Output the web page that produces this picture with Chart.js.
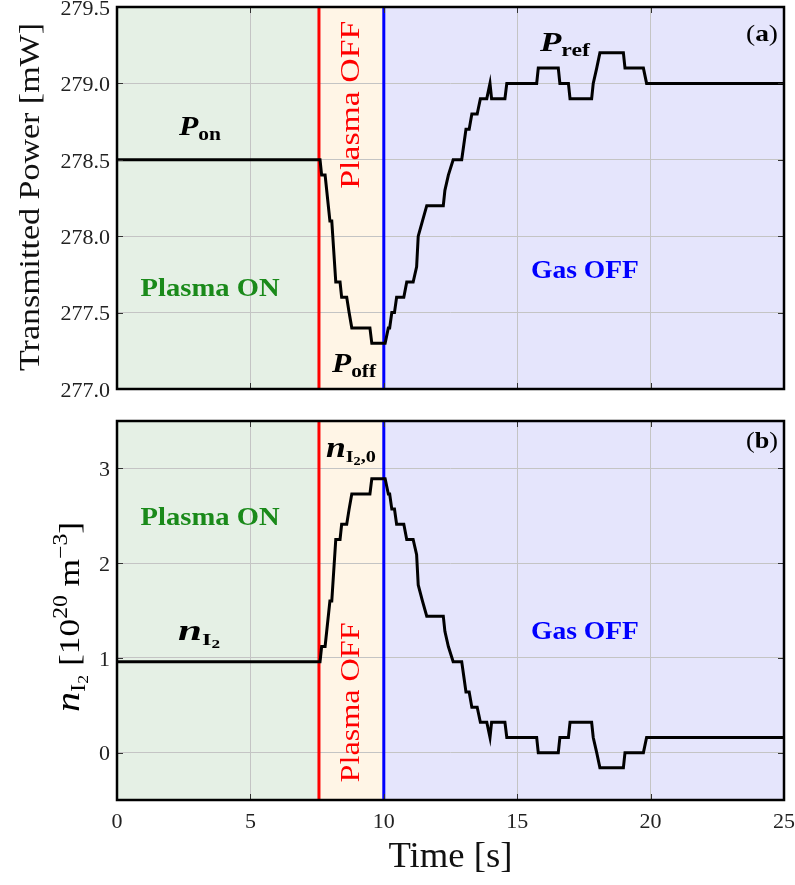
<!DOCTYPE html>
<html>
<head>
<meta charset="utf-8">
<script src="https://cdn.jsdelivr.net/npm/chart.js@4.4.1/dist/chart.umd.min.js"></script>
<style>
  html, body { margin: 0; padding: 0; background: #fff; }
  #wrap { position: relative; width: 795px; height: 885px; overflow: hidden; }
  #topBox { position: absolute; left: 0; top: -13px; width: 795px; height: 418px; }
  #botBox { position: absolute; left: 0; top: 405px; width: 795px; height: 480px; }
</style>
</head>
<body>
<div id="wrap">
  <div id="topBox"><canvas id="top" width="795" height="418"></canvas></div>
  <div id="botBox"><canvas id="bot" width="795" height="480"></canvas></div>
</div>
<script>
// time [s] of each sample
const timeS = [0, 7.61, 7.67, 7.80, 7.98, 8.05, 8.20, 8.36, 8.42, 8.61, 8.70, 8.80, 9.48, 9.55, 10.05,
  10.17, 10.22, 10.30, 10.40, 10.48, 10.75, 10.86, 11.10, 11.23, 11.29, 11.45, 11.61, 12.23, 12.29,
  12.42, 12.60, 12.92, 13.00, 13.08, 13.20, 13.30, 13.50, 13.62, 13.86, 13.98, 14.04, 14.54, 14.61,
  15.73, 15.79, 16.54, 16.60, 16.92, 16.98, 17.79, 17.85, 17.98, 18.10, 18.98, 19.04, 19.73, 19.85, 25];
// (a) transmitted power [mW]
const powerMW = [278.5, 278.5, 278.4, 278.4, 278.1, 278.1, 277.7, 277.7, 277.6, 277.6, 277.5, 277.4,
  277.4, 277.3, 277.3, 277.4, 277.4, 277.5, 277.5, 277.6, 277.6, 277.7, 277.7, 277.8, 278.0, 278.1,
  278.2, 278.2, 278.3, 278.4, 278.5, 278.5, 278.6, 278.7, 278.7, 278.8, 278.8, 278.9, 278.9, 279.0,
  278.9, 278.9, 279.0, 279.0, 279.1, 279.1, 279.0, 279.0, 278.9, 278.9, 279.0, 279.1, 279.2, 279.2,
  279.1, 279.1, 279.0, 279.0];
// (b) iodine density [1e20 m^-3]
const densityE20 = [0.96, 0.96, 1.12, 1.12, 1.60, 1.60, 2.25, 2.25, 2.41, 2.41, 2.57, 2.73, 2.73, 2.89,
  2.89, 2.73, 2.73, 2.57, 2.57, 2.41, 2.41, 2.25, 2.25, 2.09, 1.77, 1.60, 1.44, 1.44, 1.28, 1.12, 0.96,
  0.96, 0.80, 0.64, 0.64, 0.48, 0.48, 0.32, 0.32, 0.16, 0.32, 0.32, 0.16, 0.16, 0.00, 0.00, 0.16, 0.16,
  0.32, 0.32, 0.16, 0.00, -0.16, -0.16, 0.00, 0.00, 0.16, 0.16];

const xTicks = [0, 5, 10, 15, 20, 25];
const powerTicks = [277.0, 277.5, 278.0, 278.5, 279.0, 279.5];
const densityTicks = [0, 1, 2, 3];
const plasmaOffAt = 7.57;
const gasOffAt = 10;

const SERIF = '"Liberation Serif", "DejaVu Serif", serif';
const GREEN_BG = 'rgb(229,240,229)', ORANGE_BG = 'rgb(255,245,230)', BLUE_BG = 'rgb(229,229,252)';

// mixed-size text (sub/superscripts); optional fit to a target length
function drawRich(ctx, parts, x, y, angle, align, fitW) {
  ctx.save();
  ctx.translate(x, y);
  ctx.rotate(angle || 0);
  ctx.textAlign = 'left';
  ctx.textBaseline = 'alphabetic';
  let total = 0;
  parts.forEach(p => { ctx.font = p.font; p.w = ctx.measureText(p.t).width; total += p.w; });
  if (fitW) { ctx.scale(fitW / total, 1); }
  let cx = align === 'center' ? -total / 2 : align === 'right' ? -total : 0;
  parts.forEach(p => {
    ctx.font = p.font;
    ctx.fillStyle = p.color || '#000';
    ctx.fillText(p.t, cx, p.dy || 0);
    cx += p.w;
  });
  ctx.restore();
}

function drawLabel(ctx, text, x, y, font, color, angle, fitW) {
  ctx.save();
  ctx.translate(x, y);
  ctx.rotate(angle || 0);
  ctx.font = font;
  if (fitW) { ctx.scale(fitW / ctx.measureText(text).width, 1); }
  ctx.fillStyle = color;
  ctx.textAlign = 'center';
  ctx.textBaseline = 'middle';
  ctx.fillText(text, 0, 0);
  ctx.restore();
}

function panelPlugin(annotate) {
  return {
    id: 'panel',
    beforeDraw(chart) {
      const { ctx, chartArea: a, scales: { x } } = chart;
      const spans = [[0, plasmaOffAt, GREEN_BG], [plasmaOffAt, gasOffAt, ORANGE_BG], [gasOffAt, 25, BLUE_BG]];
      ctx.save();
      spans.forEach(([from, to, c]) => {
        const x0 = x.getPixelForValue(from), x1 = x.getPixelForValue(to);
        ctx.fillStyle = c;
        ctx.fillRect(x0, a.top, x1 - x0, a.bottom - a.top);
      });
      ctx.restore();
    },
    afterDraw(chart) {
      const { ctx, chartArea: a, scales: { x, y } } = chart;
      ctx.save();
      // inward tick marks
      ctx.strokeStyle = '#333';
      ctx.lineWidth = 1;
      ctx.beginPath();
      x.ticks.forEach(t => {
        const px = Math.round(x.getPixelForValue(t.value)) + 0.5;
        ctx.moveTo(px, a.bottom); ctx.lineTo(px, a.bottom - 6);
        ctx.moveTo(px, a.top); ctx.lineTo(px, a.top + 6);
      });
      y.ticks.forEach(t => {
        const py = Math.round(y.getPixelForValue(t.value)) + 0.5;
        ctx.moveTo(a.left, py); ctx.lineTo(a.left + 6, py);
        ctx.moveTo(a.right, py); ctx.lineTo(a.right - 6, py);
      });
      ctx.stroke();
      // frame
      ctx.strokeStyle = '#000';
      ctx.lineWidth = 2.5;
      ctx.strokeRect(a.left, a.top, a.right - a.left, a.bottom - a.top);
      ctx.restore();
      annotate(chart);
    }
  };
}

function buildChart(id, values, yMin, yMax, yTicks, fmt, opts, annotate) {
  const pts = timeS.map((t, i) => ({ x: t, y: values[i] }));
  return new Chart(document.getElementById(id), {
    type: 'line',
    data: {
      datasets: [
        { data: pts, borderColor: '#000', borderWidth: 3, pointRadius: 0, tension: 0, order: 0 },
        { data: [{ x: plasmaOffAt, y: yMin }, { x: plasmaOffAt, y: yMax }], borderColor: '#ff0000',
          borderWidth: 3, pointRadius: 0, order: 1 },
        { data: [{ x: gasOffAt, y: yMin }, { x: gasOffAt, y: yMax }], borderColor: '#0000ff',
          borderWidth: 3, pointRadius: 0, order: 1 }
      ]
    },
    options: {
      responsive: false,
      animation: false,
      devicePixelRatio: 1,
      layout: { padding: opts.padding },
      plugins: { legend: { display: false }, tooltip: { enabled: false } },
      scales: {
        x: {
          type: 'linear', min: 0, max: 25,
          afterBuildTicks: s => { s.ticks = xTicks.map(v => ({ value: v })); },
          afterFit: s => { s.height = opts.xHeight; s.paddingLeft = 0; s.paddingRight = 0; },
          grid: { color: '#c4c4c4', lineWidth: 1, drawTicks: false, tickLength: 0 },
          border: { display: false },
          ticks: { display: opts.showX, padding: 9, color: '#222', font: { family: SERIF, size: 22 } }
        },
        y: {
          type: 'linear', min: yMin, max: yMax,
          afterBuildTicks: s => { s.ticks = yTicks.map(v => ({ value: v })); },
          afterFit: s => { s.width = 117; s.paddingTop = 0; s.paddingBottom = 0; },
          grid: { color: '#c4c4c4', lineWidth: 1, drawTicks: false, tickLength: 0 },
          border: { display: false },
          ticks: { padding: 7, labelOffset: 2, color: '#222', font: { family: SERIF, size: 22 }, callback: fmt }
        }
      }
    },
    plugins: [panelPlugin(annotate)]
  });
}

buildChart('top', powerMW, 277.0, 279.5, powerTicks, v => v.toFixed(1),
  { padding: { top: 20, right: 11, left: 0, bottom: 0 }, xHeight: 16, showX: false },
  chart => {
    const { ctx, chartArea: a, scales: { x, y } } = chart;
    drawLabel(ctx, 'Transmitted Power [mW]', 31, (a.top + a.bottom) / 2 - 1, '30px ' + SERIF, '#111', -Math.PI / 2, 348);
    drawLabel(ctx, 'Plasma ON', x.getPixelForValue(3.49), y.getPixelForValue(277.65), 'bold 25px ' + SERIF, '#1a8a1a', 0, 139);
    drawLabel(ctx, 'Gas OFF', x.getPixelForValue(17.54), y.getPixelForValue(277.77), 'bold 25px ' + SERIF, '#0000ff', 0, 108);
    drawLabel(ctx, 'Plasma OFF', x.getPixelForValue(8.81), y.getPixelForValue(278.86), '28px ' + SERIF, '#ff0000', -Math.PI / 2, 168);
    drawRich(ctx, [{ t: 'P', font: 'italic bold 28px ' + SERIF }, { t: 'on', font: 'bold 19px ' + SERIF, dy: 5 }],
      x.getPixelForValue(2.32), y.getPixelForValue(278.66), 0, 'left', 42);
    drawRich(ctx, [{ t: 'P', font: 'italic bold 28px ' + SERIF }, { t: 'off', font: 'bold 19px ' + SERIF, dy: 5 }],
      x.getPixelForValue(8.06), y.getPixelForValue(277.11), 0, 'left', 44);
    drawRich(ctx, [{ t: 'P', font: 'italic bold 28px ' + SERIF }, { t: 'ref', font: 'bold 19px ' + SERIF, dy: 5 }],
      x.getPixelForValue(15.85), y.getPixelForValue(279.21), 0, 'left', 50);
    drawRich(ctx, [{ t: '(', font: '24px ' + SERIF }, { t: 'a', font: 'bold 24px ' + SERIF }, { t: ')', font: '24px ' + SERIF }],
      a.right - 6, a.top + 34, 0, 'right', 32);
  });

buildChart('bot', densityE20, -0.5, 3.5, densityTicks, v => String(v),
  { padding: { top: 16, right: 11, left: 0, bottom: 0 }, xHeight: 85, showX: true },
  chart => {
    const { ctx, chartArea: a, scales: { x, y } } = chart;
    drawLabel(ctx, 'Time [s]', (a.left + a.right) / 2, 453, '36px ' + SERIF, '#111', 0, 124);
    drawRich(ctx, [
      { t: 'n', font: 'italic 34px ' + SERIF },
      { t: 'I', font: '21px ' + SERIF, dy: 6 },
      { t: '2', font: '15px ' + SERIF, dy: 9 },
      { t: ' [10', font: '30px ' + SERIF },
      { t: '20', font: '20px ' + SERIF, dy: -12 },
      { t: ' m', font: '30px ' + SERIF },
      { t: '\u22123', font: '20px ' + SERIF, dy: -12 },
      { t: ']', font: '30px ' + SERIF }
    ], 79, 212, -Math.PI / 2, 'center', 190);
    drawLabel(ctx, 'Plasma ON', x.getPixelForValue(3.49), y.getPixelForValue(2.47), 'bold 25px ' + SERIF, '#1a8a1a', 0, 139);
    drawLabel(ctx, 'Gas OFF', x.getPixelForValue(17.54), y.getPixelForValue(1.27), 'bold 25px ' + SERIF, '#0000ff', 0, 108);
    drawLabel(ctx, 'Plasma OFF', x.getPixelForValue(8.81), y.getPixelForValue(0.53), '28px ' + SERIF, '#ff0000', -Math.PI / 2, 160);
    drawRich(ctx, [{ t: 'n', font: 'italic bold 30px ' + SERIF }, { t: 'I', font: 'bold 17px ' + SERIF, dy: 5 },
      { t: '2', font: 'bold 12px ' + SERIF, dy: 8 }],
      x.getPixelForValue(2.29), y.getPixelForValue(1.19), 0, 'left', 42);
    drawRich(ctx, [{ t: 'n', font: 'italic bold 30px ' + SERIF }, { t: 'I', font: 'bold 17px ' + SERIF, dy: 5 },
      { t: '2', font: 'bold 12px ' + SERIF, dy: 8 }, { t: ',0', font: 'bold 17px ' + SERIF, dy: 5 }],
      x.getPixelForValue(7.83), y.getPixelForValue(3.12), 0, 'left', 50);
    drawRich(ctx, [{ t: '(', font: '24px ' + SERIF }, { t: 'b', font: 'bold 24px ' + SERIF }, { t: ')', font: '24px ' + SERIF }],
      a.right - 6, a.top + 27, 0, 'right', 32);
  });
</script>
</body>
</html>
